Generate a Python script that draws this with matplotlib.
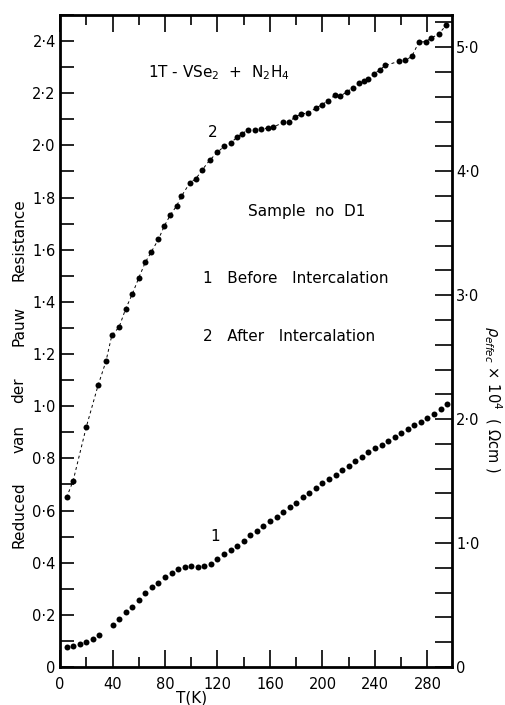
import matplotlib
matplotlib.use("Agg")
import matplotlib.pyplot as plt
from matplotlib.ticker import MultipleLocator, FuncFormatter

# Curve 1 — before intercalation
t_before = [5, 10, 15, 20, 25, 30, 40, 45, 50, 55, 60, 65, 70, 75, 80, 85, 90,
            95, 100, 105, 110, 115, 120, 125, 130, 135, 140, 145, 150, 155, 160,
            165, 170, 175, 180, 185, 190, 195, 200, 205, 210, 215, 220, 225, 230,
            235, 240, 245, 250, 255, 260, 265, 270, 275, 280, 285, 290, 295]
r_before = [0.078, 0.080, 0.088, 0.097, 0.106, 0.121, 0.161, 0.183, 0.209, 0.231,
            0.257, 0.282, 0.305, 0.323, 0.346, 0.359, 0.374, 0.382, 0.387, 0.384,
            0.387, 0.395, 0.414, 0.432, 0.448, 0.464, 0.484, 0.505, 0.522, 0.540,
            0.558, 0.576, 0.594, 0.612, 0.630, 0.650, 0.668, 0.686, 0.704, 0.721,
            0.738, 0.754, 0.771, 0.788, 0.806, 0.823, 0.838, 0.853, 0.867, 0.882,
            0.896, 0.912, 0.928, 0.941, 0.956, 0.971, 0.990, 1.008]

# Curve 2 — after intercalation
t_after = [5, 10, 20, 29, 35, 39.5, 45, 50, 55, 60, 65, 69.5, 75, 79.5, 84, 89,
           92.5, 99, 103.5, 108.5, 114, 120, 125, 130, 135, 139, 143, 148.5,
           153.5, 158.5, 162.5, 170, 174.5, 179, 184, 189, 195, 199.5, 204.5,
           209.5, 213.5, 218.5, 223.5, 228, 231.5, 235, 239, 243.5, 248, 258,
           263, 268, 273.5, 278.5, 283, 288.5, 294.5]
r_after = [0.650, 0.714, 0.920, 1.080, 1.172, 1.272, 1.303, 1.373, 1.429, 1.492,
           1.552, 1.591, 1.640, 1.691, 1.733, 1.769, 1.805, 1.857, 1.872, 1.907,
           1.943, 1.974, 1.996, 2.009, 2.032, 2.045, 2.060, 2.058, 2.064, 2.066,
           2.070, 2.088, 2.091, 2.108, 2.121, 2.124, 2.143, 2.156, 2.172, 2.193,
           2.189, 2.205, 2.222, 2.240, 2.248, 2.256, 2.273, 2.289, 2.307, 2.322,
           2.326, 2.341, 2.396, 2.398, 2.412, 2.427, 2.462]

# y-label words and their positions along the left axis (axes fraction)
ylabel_words = ["Reduced", "van", "der", "Pauw", "Resistance"]
ylabel_pos = [0.233, 0.350, 0.425, 0.523, 0.656]

plt.rcParams["font.family"] = ["DejaVu Sans"]
plt.rcParams["mathtext.fontset"] = "dejavusans"

fig = plt.figure(figsize=(5.06, 7.05), dpi=100)
ax = fig.add_axes([0.1186, 0.0539, 0.7747, 0.9248])

ax.plot(t_after, r_after, color="black", ls=(0, (3, 3)), lw=0.7)
ax.plot(t_after, r_after, "o", color="black", ms=4.3, mew=0)
ax.plot(t_before, r_before, "o", color="black", ms=4.3, mew=0)

ax.set_xlim(0, 298.7)
ax.set_ylim(0, 2.5)

dot = lambda v, p: "0" if abs(v) < 1e-9 else f"{v:.1f}".replace(".", "·")
ax.xaxis.set_major_locator(MultipleLocator(40))
ax.xaxis.set_minor_locator(MultipleLocator(20))
ax.yaxis.set_major_locator(MultipleLocator(0.2))
ax.yaxis.set_minor_locator(MultipleLocator(0.1))
ax.yaxis.set_major_formatter(FuncFormatter(dot))
ax.tick_params(axis="both", which="both", direction="in", color="black",
               labelsize=10.5, width=1.2)
ax.tick_params(axis="x", which="major", length=12, top=True, pad=7)
ax.tick_params(axis="x", which="minor", length=7, top=True)
ax.tick_params(axis="y", which="both", length=10, right=False, pad=3)

for s in ax.spines.values():
    s.set_linewidth(2.0)

ax2 = ax.twinx()
ax2.set_ylim(0, 5.26)
ax2.yaxis.set_major_locator(MultipleLocator(1.0))
ax2.yaxis.set_minor_locator(MultipleLocator(0.2))
ax2.yaxis.set_major_formatter(FuncFormatter(dot))
ax2.tick_params(axis="y", which="both", direction="in", length=12, width=1.2,
                labelsize=10.5, pad=3)
for s in ax2.spines.values():
    s.set_visible(False)

# annotations
ax.text(67, 2.28, r"1T - VSe$_2$  +  N$_2$H$_4$", fontsize=11, va="center")
ax.text(116, 2.05, "2", fontsize=11, ha="center", va="center")
ax.text(143, 1.747, "Sample  no  D1", fontsize=11, va="center")
ax.text(109, 1.49, "1   Before   Intercalation", fontsize=11, va="center")
ax.text(109, 1.268, "2   After   Intercalation", fontsize=11, va="center")
ax.text(118, 0.50, "1", fontsize=11, ha="center", va="center")

ax.text(100, -0.12, "T(K)", fontsize=11, ha="center", va="center")
for word, pos in zip(ylabel_words, ylabel_pos):
    ax.text(-0.105, pos, word, transform=ax.transAxes, rotation=90,
            fontsize=11, ha="center", va="center")
ax.text(1.105, 0.41, r"$\rho_{effec}$ × 10$^4$  ( Ωcm )",
        transform=ax.transAxes, rotation=-90, fontsize=10.5,
        ha="center", va="center")

fig.savefig("out.png", dpi=100, facecolor="white")
